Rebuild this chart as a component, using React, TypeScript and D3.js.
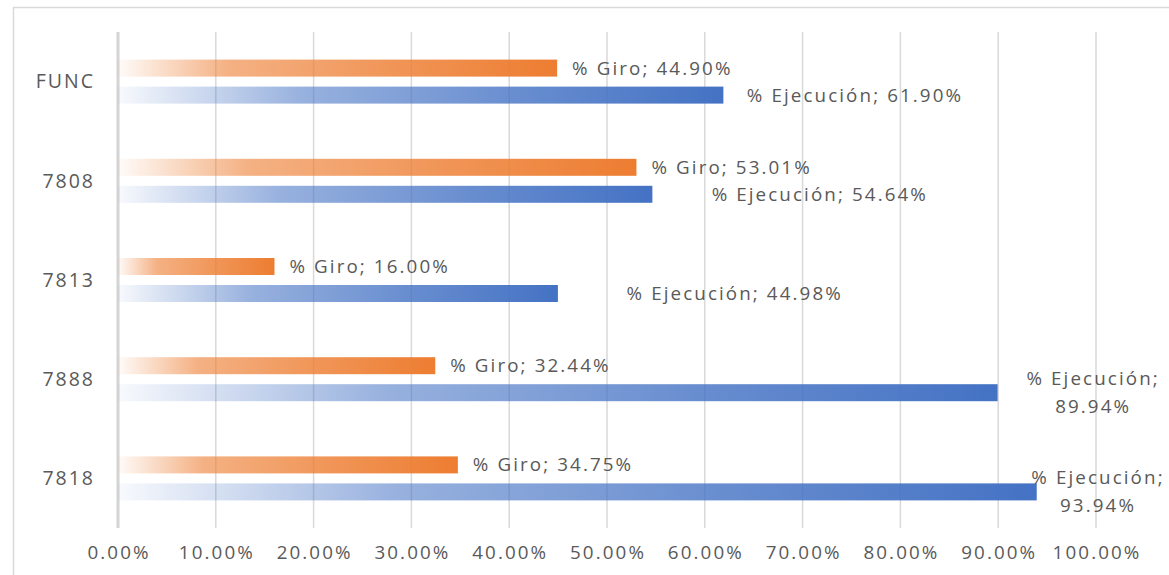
import React from "react";
import * as d3 from "d3";

const categories = ["FUNC", "7808", "7813", "7888", "7818"];
const giroValues = [44.9, 53.01, 16.0, 32.44, 34.75];
const ejecucionValues = [61.9, 54.64, 44.98, 89.94, 93.94];
const xTicks = [0, 10, 20, 30, 40, 50, 60, 70, 80, 90, 100];
// label placement (in axis % units) for the "% Ejecución" labels, as Excel placed them
const ejecLabelPos = [64.3, 60.7, 52.0, 99.6, 100.1];
const ejecLabelWrapped = [false, false, false, true, true];

const W = 1169;
const H = 575;
const FONT = "'Open Sans', 'Liberation Sans', sans-serif";
const TXT = "#595959";
const FS = 18.8;
const LS = 2.1;

export default function App() {
  const x = d3.scaleLinear().domain([0, 100]).range([118, 1096]);
  const y = d3.scaleBand().domain(categories).range([32, 528]).paddingInner(0).paddingOuter(0);
  const barH = 17;
  const gap = 5;

  return (
    <svg width={W} height={H} style={{ position: "absolute", left: 0, top: 0, background: "#fff" }}>
      <defs>
        <linearGradient id="gOrange" x1="0" y1="0" x2="1" y2="0">
          <stop offset="0" stopColor="#ED7D31" stopOpacity={0.03} />
          <stop offset="0.25" stopColor="#ED7D31" stopOpacity={0.6} />
          <stop offset="0.6" stopColor="#ED7D31" stopOpacity={0.8} />
          <stop offset="1" stopColor="#ED7D31" stopOpacity={1} />
        </linearGradient>
        <linearGradient id="gBlue" x1="0" y1="0" x2="1" y2="0">
          <stop offset="0" stopColor="#4472C4" stopOpacity={0.04} />
          <stop offset="0.3" stopColor="#4472C4" stopOpacity={0.55} />
          <stop offset="0.65" stopColor="#4472C4" stopOpacity={0.8} />
          <stop offset="1" stopColor="#4472C4" stopOpacity={1} />
        </linearGradient>
      </defs>
      <rect x={13.5} y={7.5} width={W} height={H} fill="none" stroke="#D9D9D9" strokeWidth={1.5} />
      {xTicks.map((t) => (
        <line key={t} x1={x(t)} x2={x(t)} y1={32} y2={528} stroke={t === 0 ? "#D4D4D4" : "#D9D9D9"} strokeWidth={t === 0 ? 3 : 1.5} />
      ))}
      {xTicks.map((t) => (
        <text key={"l" + t} x={x(t) + LS / 2} y={559} textAnchor="middle" fontFamily={FONT} fontSize={FS} letterSpacing={LS} fill={TXT}>
          {t.toFixed(2) + "%"}
        </text>
      ))}
      {categories.map((c, i) => {
        const y0 = y(c)!;
        const cy = y0 + y.bandwidth() / 2;
        const oy = cy - gap - barH;
        const by = cy + gap;
        const g = giroValues[i];
        const e = ejecucionValues[i];
        const eLabel = "% Ejecución; " + e.toFixed(2) + "%";
        return (
          <g key={c}>
            <text x={95} y={cy} dy="0.35em" textAnchor="end" fontFamily={FONT} fontSize={19.5} letterSpacing={2} fill={TXT}>
              {c}
            </text>
            <rect x={x(0)} y={oy} width={x(g) - x(0)} height={barH} fill="url(#gOrange)" />
            <rect x={x(0)} y={by} width={x(e) - x(0)} height={barH} fill="url(#gBlue)" />
            <text x={x(g) + 15} y={oy + barH / 2} dy="0.35em" fontFamily={FONT} fontSize={FS} letterSpacing={LS} fill={TXT}>
              {"% Giro; " + g.toFixed(2) + "%"}
            </text>
            {ejecLabelWrapped[i] ? (
              <text x={x(ejecLabelPos[i])} y={by + barH / 2} textAnchor="middle" fontFamily={FONT} fontSize={FS} letterSpacing={LS} fill={TXT}>
                <tspan x={x(ejecLabelPos[i]) + LS / 2} dy="-0.42em">% Ejecución;</tspan>
                <tspan x={x(ejecLabelPos[i]) + LS / 2} dy="1.5em">{e.toFixed(2) + "%"}</tspan>
              </text>
            ) : (
              <text x={x(ejecLabelPos[i])} y={by + barH / 2} dy="0.35em" fontFamily={FONT} fontSize={FS} letterSpacing={LS} fill={TXT}>
                {eLabel}
              </text>
            )}
          </g>
        );
      })}
    </svg>
  );
}
